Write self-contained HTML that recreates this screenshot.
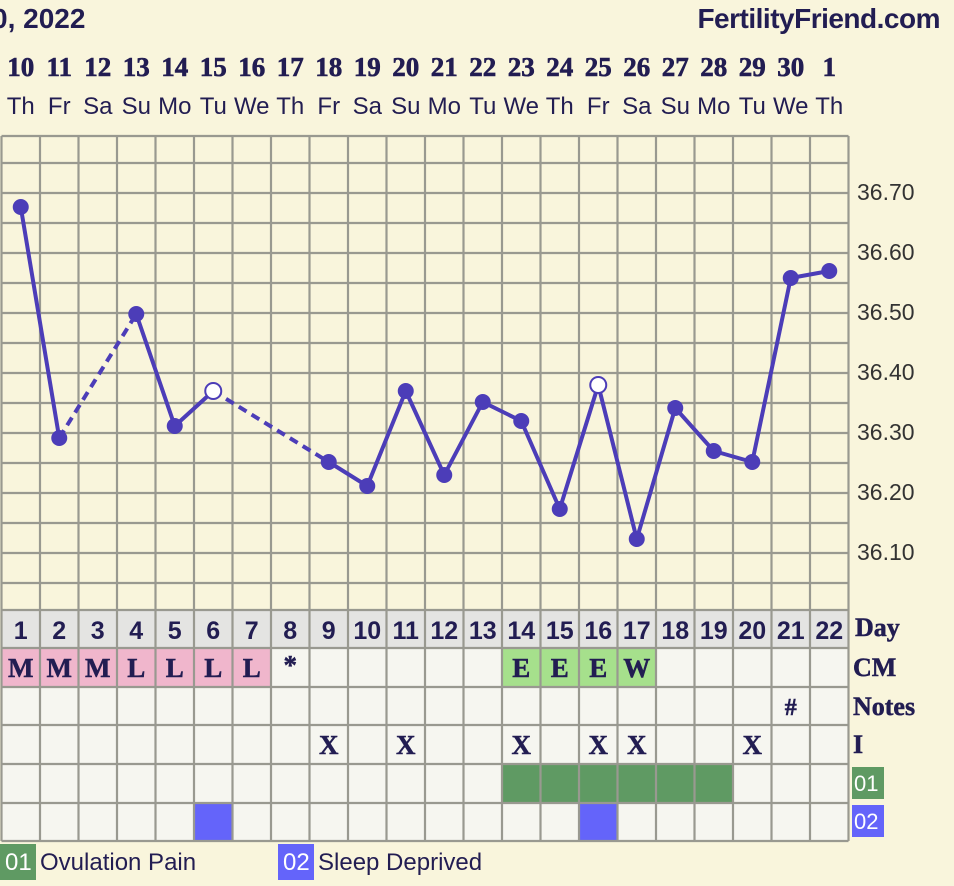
<!DOCTYPE html>
<html><head><meta charset="utf-8"><style>
html,body{margin:0;padding:0;background:#f9f5dc;}
svg{display:block}
</style></head><body>
<svg width="954" height="886" viewBox="0 0 954 886" xmlns="http://www.w3.org/2000/svg">
<rect width="954" height="886" fill="#f9f5dc"/>
<g fill="#221d52">
<text x="-8" y="28" font-family="Liberation Sans, sans-serif" font-weight="bold" font-size="28">0, 2022</text>
<text x="940" y="28" text-anchor="end" font-family="Liberation Sans, sans-serif" font-weight="bold" font-size="28" letter-spacing="-0.5">FertilityFriend.com</text>
<g font-family="Liberation Serif, serif" font-weight="bold" font-size="27" text-anchor="middle" stroke="#221d52" stroke-width="0.6">
<text x="20.75" y="76">10</text><text x="59.25" y="76">11</text><text x="97.75" y="76">12</text><text x="136.25" y="76">13</text><text x="174.75" y="76">14</text><text x="213.25" y="76">15</text><text x="251.75" y="76">16</text><text x="290.25" y="76">17</text><text x="328.75" y="76">18</text><text x="367.25" y="76">19</text><text x="405.75" y="76">20</text><text x="444.25" y="76">21</text><text x="482.75" y="76">22</text><text x="521.25" y="76">23</text><text x="559.75" y="76">24</text><text x="598.25" y="76">25</text><text x="636.75" y="76">26</text><text x="675.25" y="76">27</text><text x="713.75" y="76">28</text><text x="752.25" y="76">29</text><text x="790.75" y="76">30</text><text x="829.25" y="76">1</text>
</g>
<g font-family="Liberation Sans, sans-serif" font-size="24" text-anchor="middle">
<text x="20.75" y="114">Th</text><text x="59.25" y="114">Fr</text><text x="97.75" y="114">Sa</text><text x="136.25" y="114">Su</text><text x="174.75" y="114">Mo</text><text x="213.25" y="114">Tu</text><text x="251.75" y="114">We</text><text x="290.25" y="114">Th</text><text x="328.75" y="114">Fr</text><text x="367.25" y="114">Sa</text><text x="405.75" y="114">Su</text><text x="444.25" y="114">Mo</text><text x="482.75" y="114">Tu</text><text x="521.25" y="114">We</text><text x="559.75" y="114">Th</text><text x="598.25" y="114">Fr</text><text x="636.75" y="114">Sa</text><text x="675.25" y="114">Su</text><text x="713.75" y="114">Mo</text><text x="752.25" y="114">Tu</text><text x="790.75" y="114">We</text><text x="829.25" y="114">Th</text>
</g>
</g>
<rect x="1.5" y="136" width="847" height="474" fill="#f9f5dc"/>
<rect x="1.5" y="610" width="847" height="38" fill="#e4e4e2"/>
<rect x="1.5" y="648" width="847" height="193" fill="#f6f6f0"/>
<rect x="1.5" y="648" width="269.5" height="39" fill="#f0b6cc"/>
<rect x="502" y="648" width="154" height="39" fill="#a6e08c"/>
<rect x="502" y="764" width="231" height="39" fill="#5f9a63"/>
<rect x="194" y="803" width="38.5" height="38" fill="#6464fa"/>
<rect x="579" y="803" width="38.5" height="38" fill="#6464fa"/>
<g stroke="#999990" stroke-width="2.2" fill="none">
<path d="M1.5 136H848.5M1.5 163H848.5M1.5 193H848.5M1.5 223H848.5M1.5 253H848.5M1.5 283H848.5M1.5 313H848.5M1.5 343H848.5M1.5 373H848.5M1.5 403H848.5M1.5 433H848.5M1.5 463H848.5M1.5 493H848.5M1.5 523H848.5M1.5 553H848.5M1.5 583H848.5M1.5 610H848.5M1.5 648H848.5M1.5 687H848.5M1.5 725H848.5M1.5 764H848.5M1.5 803H848.5M1.5 841H848.5"/>
<path d="M1.5 136V841M40 136V841M78.5 136V841M117 136V841M155.5 136V841M194 136V841M232.5 136V841M271 136V841M309.5 136V841M348 136V841M386.5 136V841M425 136V841M463.5 136V841M502 136V841M540.5 136V841M579 136V841M617.5 136V841M656 136V841M694.5 136V841M733 136V841M771.5 136V841M810 136V841M848.5 136V841"/>
</g>
<g font-family="Liberation Sans, sans-serif" font-size="23" fill="#333">
<text x="857" y="200">36.70</text><text x="857" y="260">36.60</text><text x="857" y="320">36.50</text><text x="857" y="380">36.40</text><text x="857" y="440">36.30</text><text x="857" y="500">36.20</text><text x="857" y="560">36.10</text>
</g>
<g stroke="#4c3db8" stroke-width="4" fill="none" stroke-linejoin="round">
<polyline points="20.75,207 59.25,438"/>
<polyline points="59.25,438 136.25,314" stroke-dasharray="9,6"/>
<polyline points="136.25,314 174.75,426 213.25,391"/>
<polyline points="213.25,391 328.75,462" stroke-dasharray="9,6"/>
<polyline points="328.75,462 367.25,486 405.75,391 444.25,475 482.75,402 521.25,421 559.75,509 598.25,385 636.75,539 675.25,408 713.75,451 752.25,462 790.75,278 829.25,271"/>
</g>
<g fill="#4c3db8">
<circle cx="20.75" cy="207" r="8"/><circle cx="59.25" cy="438" r="8"/><circle cx="136.25" cy="314" r="8"/><circle cx="174.75" cy="426" r="8"/><circle cx="328.75" cy="462" r="8"/><circle cx="367.25" cy="486" r="8"/><circle cx="405.75" cy="391" r="8"/><circle cx="444.25" cy="475" r="8"/><circle cx="482.75" cy="402" r="8"/><circle cx="521.25" cy="421" r="8"/><circle cx="559.75" cy="509" r="8"/><circle cx="636.75" cy="539" r="8"/><circle cx="675.25" cy="408" r="8"/><circle cx="713.75" cy="451" r="8"/><circle cx="752.25" cy="462" r="8"/><circle cx="790.75" cy="278" r="8"/><circle cx="829.25" cy="271" r="8"/>
</g>
<g fill="#ffffff" stroke="#4c3db8" stroke-width="2">
<circle cx="213.25" cy="391" r="8"/><circle cx="598.25" cy="385" r="8"/>
</g>
<g fill="#221d52" font-family="Liberation Sans, sans-serif" font-weight="bold" font-size="25" text-anchor="middle">
<text x="20.75" y="639">1</text><text x="59.25" y="639">2</text><text x="97.75" y="639">3</text><text x="136.25" y="639">4</text><text x="174.75" y="639">5</text><text x="213.25" y="639">6</text><text x="251.75" y="639">7</text><text x="290.25" y="639">8</text><text x="328.75" y="639">9</text><text x="367.25" y="639">10</text><text x="405.75" y="639">11</text><text x="444.25" y="639">12</text><text x="482.75" y="639">13</text><text x="521.25" y="639">14</text><text x="559.75" y="639">15</text><text x="598.25" y="639">16</text><text x="636.75" y="639">17</text><text x="675.25" y="639">18</text><text x="713.75" y="639">19</text><text x="752.25" y="639">20</text><text x="790.75" y="639">21</text><text x="829.25" y="639">22</text>
</g>
<g fill="#221d52" font-family="Liberation Serif, serif" font-weight="bold" font-size="27" text-anchor="middle" stroke="#221d52" stroke-width="0.5">
<text x="20.75" y="677">M</text><text x="59.25" y="677">M</text><text x="97.75" y="677">M</text><text x="136.25" y="677">L</text><text x="174.75" y="677">L</text><text x="213.25" y="677">L</text><text x="251.75" y="677">L</text><text x="290.25" y="674">*</text>
<text x="521.25" y="677">E</text><text x="559.75" y="677">E</text><text x="598.25" y="677">E</text><text x="636.75" y="677">W</text>
<text x="790.75" y="715" font-size="24">#</text>
<text x="328.75" y="754">X</text><text x="405.75" y="754">X</text><text x="521.25" y="754">X</text><text x="598.25" y="754">X</text><text x="636.75" y="754">X</text><text x="752.25" y="754">X</text>
</g>
<g fill="#221d52" font-family="Liberation Serif, serif" font-weight="bold" font-size="26" stroke="#221d52" stroke-width="0.5">
<text x="855" y="636">Day</text><text x="853" y="676">CM</text><text x="853" y="715">Notes</text><text x="853" y="753">I</text>
</g>
<rect x="852" y="767" width="32" height="32" fill="#5f9a63"/>
<rect x="852" y="805" width="32" height="32" fill="#6464fa"/>
<g fill="#ffffff" font-family="Liberation Sans, sans-serif" font-size="22">
<text x="854" y="791">01</text><text x="854" y="829">02</text>
</g>
<rect x="0" y="844" width="36" height="36" fill="#5f9a63"/>
<rect x="278" y="844" width="36" height="36" fill="#6464fa"/>
<g font-family="Liberation Sans, sans-serif" font-size="24">
<text x="5" y="870" fill="#ffffff">01</text><text x="283" y="870" fill="#ffffff">02</text>
<text x="40" y="870" fill="#221d52">Ovulation Pain</text>
<text x="318" y="870" fill="#221d52">Sleep Deprived</text>
</g>
</svg>
</body></html>
